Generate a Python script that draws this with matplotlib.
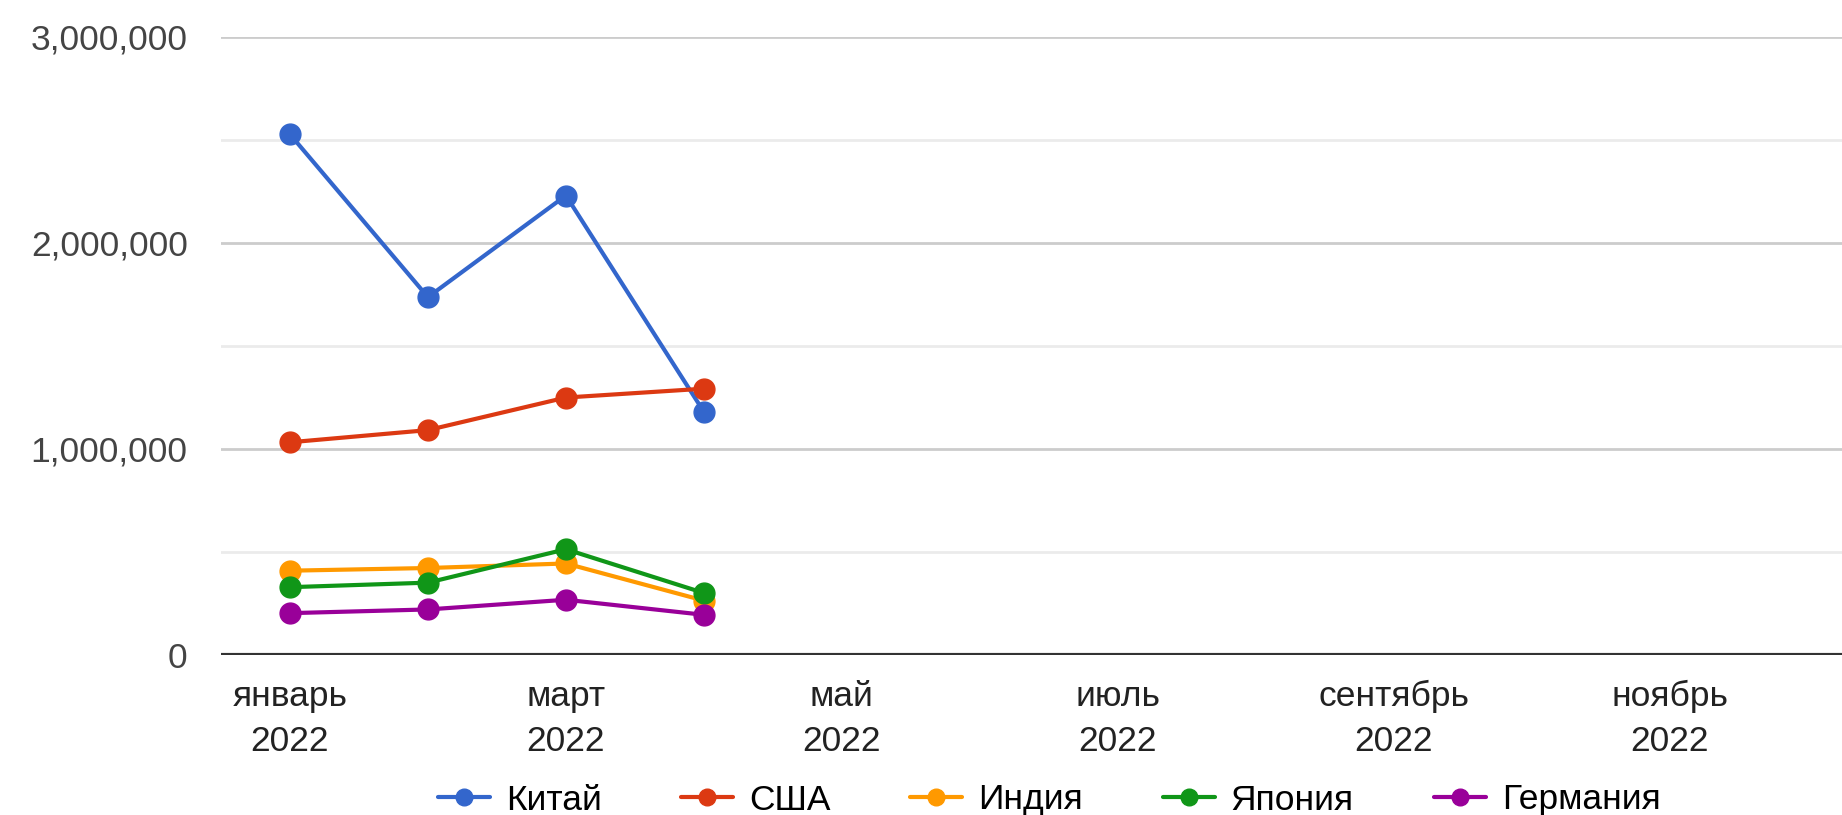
import matplotlib.pyplot as plt
from matplotlib.ticker import FuncFormatter, MultipleLocator

plt.rcParams['font.family'] = ['Liberation Sans', 'DejaVu Sans']

# месяцы 2022 (индекс месяца, 0 = январь)
months = [0, 1, 2, 3]
tick_pos = [0, 2, 4, 6, 8, 10]
tick_labels = ["январь\n2022", "март\n2022", "май\n2022",
               "июль\n2022", "сентябрь\n2022", "ноябрь\n2022"]

china = [2526000, 1736000, 2229000, 1180000]
usa = [1032000, 1091000, 1249000, 1292000]
india = [409000, 422000, 444000, 264000]
japan = [329000, 351000, 513000, 301000]
germany = [203000, 221000, 268000, 195000]

names = ["Китай", "США", "Индия", "Япония", "Германия"]
colors = ["#3366cc", "#dc3912", "#ff9900", "#109618", "#990099"]
series = [china, usa, india, japan, germany]

fig = plt.figure(figsize=(18.42, 8.15), dpi=100)
ax = fig.add_axes([221 / 1842, 160 / 815, 1 - 221 / 1842, (655 - 36.6) / 815])

for vals, name, c in zip(series, names, colors):
    ax.plot(months, vals, color=c, lw=3, marker="o", ms=15, label=name,
            solid_capstyle="round", zorder=3)

ax.set_xlim(-0.5, 11.25)
ax.set_ylim(0, 3000000)
ax.yaxis.set_major_locator(MultipleLocator(1000000))
ax.yaxis.set_minor_locator(MultipleLocator(500000))
ax.yaxis.set_major_formatter(FuncFormatter(lambda v, p: f"{int(v):,}"))
ax.grid(axis="y", which="major", color="#cccccc", lw=2)
ax.grid(axis="y", which="minor", color="#ebebeb", lw=2)
ax.set_axisbelow(True)
ax.axhline(0, color="#333333", lw=3, zorder=2)

ax.set_xticks(tick_pos)
ax.set_xticklabels(tick_labels, linespacing=1.45)
ax.tick_params(axis="x", length=0, pad=18, labelsize=25.5, labelcolor="#222222")
ax.tick_params(axis="y", which="both", length=0, pad=24, labelsize=25.5, labelcolor="#444444")
for s in ax.spines.values():
    s.set_visible(False)

ax.legend(loc="center", bbox_to_anchor=(1049 / 1842, 15 / 815), bbox_transform=fig.transFigure,
          ncol=5, frameon=False, fontsize=25.5, handlelength=1.47, handletextpad=0.45,
          columnspacing=2.25, markerscale=0.8)

fig.savefig("out.png", dpi=100, facecolor="white")
